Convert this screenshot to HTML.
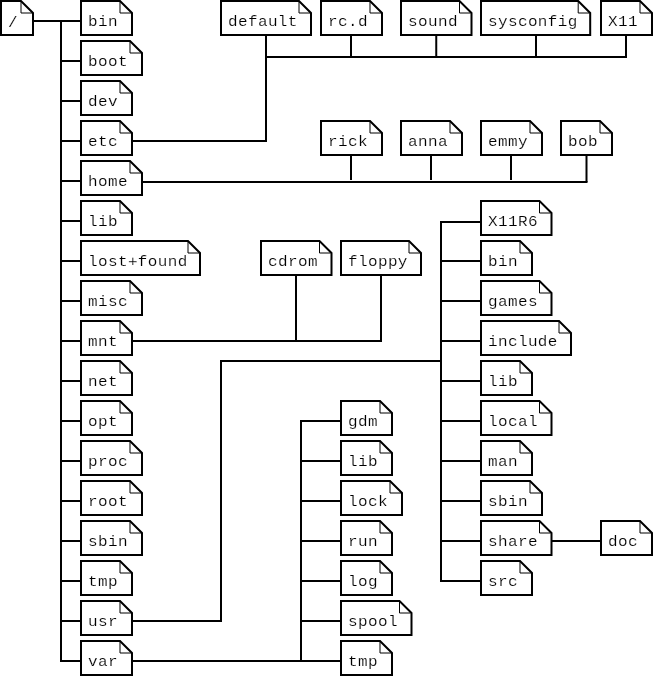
<!DOCTYPE html>
<html lang="en">
<head>
<meta charset="utf-8">
<title>Linux file system layout</title>
<style>
html,body{margin:0;padding:0;background:#fff;}
svg{display:block;filter:grayscale(1);}
.ln{stroke:#000;stroke-width:2;fill:none;stroke-linecap:butt;}
.bx{stroke:#000;stroke-width:2;fill:#fff;stroke-linejoin:miter;}
.fd{stroke:#000;stroke-width:1;fill:none;}
text{font-family:"Liberation Mono","DejaVu Sans Mono",monospace;font-size:16px;letter-spacing:0.4px;fill:#000;stroke:#fff;stroke-width:0.18px;}
</style>
</head>
<body>
<svg width="653" height="693" viewBox="0 0 653 693">
<rect x="0" y="0" width="653" height="693" fill="#fff"/>
<g class="ln">
<line x1="33" y1="21" x2="81" y2="21"/>
<line x1="61" y1="20" x2="61" y2="662"/>
<line x1="61" y1="61" x2="81" y2="61"/>
<line x1="61" y1="101" x2="81" y2="101"/>
<line x1="61" y1="141" x2="81" y2="141"/>
<line x1="61" y1="181" x2="81" y2="181"/>
<line x1="61" y1="221" x2="81" y2="221"/>
<line x1="61" y1="261" x2="81" y2="261"/>
<line x1="61" y1="301" x2="81" y2="301"/>
<line x1="61" y1="341" x2="81" y2="341"/>
<line x1="61" y1="381" x2="81" y2="381"/>
<line x1="61" y1="421" x2="81" y2="421"/>
<line x1="61" y1="461" x2="81" y2="461"/>
<line x1="61" y1="501" x2="81" y2="501"/>
<line x1="61" y1="541" x2="81" y2="541"/>
<line x1="61" y1="581" x2="81" y2="581"/>
<line x1="61" y1="621" x2="81" y2="621"/>
<line x1="61" y1="661" x2="81" y2="661"/>
<line x1="132" y1="141" x2="267" y2="141"/>
<line x1="266" y1="35" x2="266" y2="142"/>
<line x1="266" y1="57" x2="627" y2="57"/>
<line x1="351" y1="35" x2="351" y2="57"/>
<line x1="436.25" y1="35" x2="436.25" y2="57"/>
<line x1="536" y1="35" x2="536" y2="57"/>
<line x1="626" y1="35" x2="626" y2="57"/>
<line x1="142" y1="182" x2="587.5" y2="182"/>
<line x1="351" y1="155" x2="351" y2="180"/>
<line x1="431" y1="155" x2="431" y2="180"/>
<line x1="511" y1="155" x2="511" y2="180"/>
<line x1="586.5" y1="155" x2="586.5" y2="182"/>
<line x1="132" y1="341" x2="382" y2="341"/>
<line x1="296" y1="275" x2="296" y2="341"/>
<line x1="381" y1="275" x2="381" y2="341"/>
<line x1="132" y1="621" x2="222" y2="621"/>
<line x1="221" y1="360" x2="221" y2="621"/>
<line x1="221" y1="361" x2="441" y2="361"/>
<line x1="441" y1="221" x2="441" y2="582"/>
<line x1="441" y1="222" x2="481" y2="222"/>
<line x1="441" y1="261" x2="481" y2="261"/>
<line x1="441" y1="301" x2="481" y2="301"/>
<line x1="441" y1="341" x2="481" y2="341"/>
<line x1="441" y1="381" x2="481" y2="381"/>
<line x1="441" y1="421" x2="481" y2="421"/>
<line x1="441" y1="461" x2="481" y2="461"/>
<line x1="441" y1="501" x2="481" y2="501"/>
<line x1="441" y1="541" x2="481" y2="541"/>
<line x1="441" y1="581" x2="481" y2="581"/>
<line x1="551.5" y1="541" x2="601" y2="541"/>
<line x1="132" y1="661" x2="341" y2="661"/>
<line x1="301" y1="420" x2="301" y2="661"/>
<line x1="301" y1="421" x2="341" y2="421"/>
<line x1="301" y1="461" x2="341" y2="461"/>
<line x1="301" y1="501" x2="341" y2="501"/>
<line x1="301" y1="541" x2="341" y2="541"/>
<line x1="301" y1="581" x2="341" y2="581"/>
<line x1="301" y1="621" x2="341" y2="621"/>
</g>
<g>
<path class="bx" d="M1 1 L21 1 L33 13 L33 35 L1 35 Z"/>
<path class="fd" d="M21 2 L21 13 L32 13"/>
<text transform="translate(7.9 27) scale(1 0.97)">/</text>
</g>
<g>
<path class="bx" d="M81 1 L120 1 L132 13 L132 35 L81 35 Z"/>
<path class="fd" d="M120 2 L120 13 L131 13"/>
<text transform="translate(87.9 26) scale(1 0.87)">bin</text>
</g>
<g>
<path class="bx" d="M81 41 L130 41 L142 53 L142 75 L81 75 Z"/>
<path class="fd" d="M130 42 L130 53 L141 53"/>
<text transform="translate(87.9 66) scale(1 0.87)">boot</text>
</g>
<g>
<path class="bx" d="M81 81 L120 81 L132 93 L132 115 L81 115 Z"/>
<path class="fd" d="M120 82 L120 93 L131 93"/>
<text transform="translate(87.9 106) scale(1 0.87)">dev</text>
</g>
<g>
<path class="bx" d="M81 121 L120 121 L132 133 L132 155 L81 155 Z"/>
<path class="fd" d="M120 122 L120 133 L131 133"/>
<text transform="translate(87.9 146) scale(1 0.87)">etc</text>
</g>
<g>
<path class="bx" d="M81 161 L130 161 L142 173 L142 195 L81 195 Z"/>
<path class="fd" d="M130 162 L130 173 L141 173"/>
<text transform="translate(87.9 186) scale(1 0.87)">home</text>
</g>
<g>
<path class="bx" d="M81 201 L120 201 L132 213 L132 235 L81 235 Z"/>
<path class="fd" d="M120 202 L120 213 L131 213"/>
<text transform="translate(87.9 226) scale(1 0.87)">lib</text>
</g>
<g>
<path class="bx" d="M81 241 L188 241 L200 253 L200 275 L81 275 Z"/>
<path class="fd" d="M188 242 L188 253 L199 253"/>
<text transform="translate(87.9 266) scale(1 0.87)">lost+found</text>
</g>
<g>
<path class="bx" d="M81 281 L130 281 L142 293 L142 315 L81 315 Z"/>
<path class="fd" d="M130 282 L130 293 L141 293"/>
<text transform="translate(87.9 306) scale(1 0.87)">misc</text>
</g>
<g>
<path class="bx" d="M81 321 L120 321 L132 333 L132 355 L81 355 Z"/>
<path class="fd" d="M120 322 L120 333 L131 333"/>
<text transform="translate(87.9 346) scale(1 0.87)">mnt</text>
</g>
<g>
<path class="bx" d="M81 361 L120 361 L132 373 L132 395 L81 395 Z"/>
<path class="fd" d="M120 362 L120 373 L131 373"/>
<text transform="translate(87.9 386) scale(1 0.87)">net</text>
</g>
<g>
<path class="bx" d="M81 401 L120 401 L132 413 L132 435 L81 435 Z"/>
<path class="fd" d="M120 402 L120 413 L131 413"/>
<text transform="translate(87.9 426) scale(1 0.87)">opt</text>
</g>
<g>
<path class="bx" d="M81 441 L130 441 L142 453 L142 475 L81 475 Z"/>
<path class="fd" d="M130 442 L130 453 L141 453"/>
<text transform="translate(87.9 466) scale(1 0.87)">proc</text>
</g>
<g>
<path class="bx" d="M81 481 L130 481 L142 493 L142 515 L81 515 Z"/>
<path class="fd" d="M130 482 L130 493 L141 493"/>
<text transform="translate(87.9 506) scale(1 0.87)">root</text>
</g>
<g>
<path class="bx" d="M81 521 L130 521 L142 533 L142 555 L81 555 Z"/>
<path class="fd" d="M130 522 L130 533 L141 533"/>
<text transform="translate(87.9 546) scale(1 0.87)">sbin</text>
</g>
<g>
<path class="bx" d="M81 561 L120 561 L132 573 L132 595 L81 595 Z"/>
<path class="fd" d="M120 562 L120 573 L131 573"/>
<text transform="translate(87.9 586) scale(1 0.87)">tmp</text>
</g>
<g>
<path class="bx" d="M81 601 L120 601 L132 613 L132 635 L81 635 Z"/>
<path class="fd" d="M120 602 L120 613 L131 613"/>
<text transform="translate(87.9 626) scale(1 0.87)">usr</text>
</g>
<g>
<path class="bx" d="M81 641 L120 641 L132 653 L132 675 L81 675 Z"/>
<path class="fd" d="M120 642 L120 653 L131 653"/>
<text transform="translate(87.9 666) scale(1 0.87)">var</text>
</g>
<g>
<path class="bx" d="M221 1 L299 1 L311 13 L311 35 L221 35 Z"/>
<path class="fd" d="M299 2 L299 13 L310 13"/>
<text transform="translate(227.9 26) scale(1 0.87)">default</text>
</g>
<g>
<path class="bx" d="M321 1 L370 1 L382 13 L382 35 L321 35 Z"/>
<path class="fd" d="M370 2 L370 13 L381 13"/>
<text transform="translate(327.9 26) scale(1 0.87)">rc.d</text>
</g>
<g>
<path class="bx" d="M401 1 L459.5 1 L471.5 13 L471.5 35 L401 35 Z"/>
<path class="fd" d="M459.5 2 L459.5 13 L470.5 13"/>
<text transform="translate(407.9 26) scale(1 0.87)">sound</text>
</g>
<g>
<path class="bx" d="M481 1 L578.2 1 L590.2 13 L590.2 35 L481 35 Z"/>
<path class="fd" d="M578.2 2 L578.2 13 L589.2 13"/>
<text transform="translate(487.9 26) scale(1 0.87)">sysconfig</text>
</g>
<g>
<path class="bx" d="M601 1 L640 1 L652 13 L652 35 L601 35 Z"/>
<path class="fd" d="M640 2 L640 13 L651 13"/>
<text transform="translate(607.9 26) scale(1 0.87)">X11</text>
</g>
<g>
<path class="bx" d="M321 121 L370 121 L382 133 L382 155 L321 155 Z"/>
<path class="fd" d="M370 122 L370 133 L381 133"/>
<text transform="translate(327.9 146) scale(1 0.87)">rick</text>
</g>
<g>
<path class="bx" d="M401 121 L450 121 L462 133 L462 155 L401 155 Z"/>
<path class="fd" d="M450 122 L450 133 L461 133"/>
<text transform="translate(407.9 146) scale(1 0.87)">anna</text>
</g>
<g>
<path class="bx" d="M481 121 L530 121 L542 133 L542 155 L481 155 Z"/>
<path class="fd" d="M530 122 L530 133 L541 133"/>
<text transform="translate(487.9 146) scale(1 0.87)">emmy</text>
</g>
<g>
<path class="bx" d="M561 121 L600 121 L612 133 L612 155 L561 155 Z"/>
<path class="fd" d="M600 122 L600 133 L611 133"/>
<text transform="translate(567.9 146) scale(1 0.87)">bob</text>
</g>
<g>
<path class="bx" d="M261 241 L319.5 241 L331.5 253 L331.5 275 L261 275 Z"/>
<path class="fd" d="M319.5 242 L319.5 253 L330.5 253"/>
<text transform="translate(267.9 266) scale(1 0.87)">cdrom</text>
</g>
<g>
<path class="bx" d="M341 241 L409 241 L421 253 L421 275 L341 275 Z"/>
<path class="fd" d="M409 242 L409 253 L420 253"/>
<text transform="translate(347.9 266) scale(1 0.87)">floppy</text>
</g>
<g>
<path class="bx" d="M481 201 L539.5 201 L551.5 213 L551.5 235 L481 235 Z"/>
<path class="fd" d="M539.5 202 L539.5 213 L550.5 213"/>
<text transform="translate(487.9 226) scale(1 0.87)">X11R6</text>
</g>
<g>
<path class="bx" d="M481 241 L520 241 L532 253 L532 275 L481 275 Z"/>
<path class="fd" d="M520 242 L520 253 L531 253"/>
<text transform="translate(487.9 266) scale(1 0.87)">bin</text>
</g>
<g>
<path class="bx" d="M481 281 L539.5 281 L551.5 293 L551.5 315 L481 315 Z"/>
<path class="fd" d="M539.5 282 L539.5 293 L550.5 293"/>
<text transform="translate(487.9 306) scale(1 0.87)">games</text>
</g>
<g>
<path class="bx" d="M481 321 L559 321 L571 333 L571 355 L481 355 Z"/>
<path class="fd" d="M559 322 L559 333 L570 333"/>
<text transform="translate(487.9 346) scale(1 0.87)">include</text>
</g>
<g>
<path class="bx" d="M481 361 L520 361 L532 373 L532 395 L481 395 Z"/>
<path class="fd" d="M520 362 L520 373 L531 373"/>
<text transform="translate(487.9 386) scale(1 0.87)">lib</text>
</g>
<g>
<path class="bx" d="M481 401 L539.5 401 L551.5 413 L551.5 435 L481 435 Z"/>
<path class="fd" d="M539.5 402 L539.5 413 L550.5 413"/>
<text transform="translate(487.9 426) scale(1 0.87)">local</text>
</g>
<g>
<path class="bx" d="M481 441 L520 441 L532 453 L532 475 L481 475 Z"/>
<path class="fd" d="M520 442 L520 453 L531 453"/>
<text transform="translate(487.9 466) scale(1 0.87)">man</text>
</g>
<g>
<path class="bx" d="M481 481 L530 481 L542 493 L542 515 L481 515 Z"/>
<path class="fd" d="M530 482 L530 493 L541 493"/>
<text transform="translate(487.9 506) scale(1 0.87)">sbin</text>
</g>
<g>
<path class="bx" d="M481 521 L539.5 521 L551.5 533 L551.5 555 L481 555 Z"/>
<path class="fd" d="M539.5 522 L539.5 533 L550.5 533"/>
<text transform="translate(487.9 546) scale(1 0.87)">share</text>
</g>
<g>
<path class="bx" d="M481 561 L520 561 L532 573 L532 595 L481 595 Z"/>
<path class="fd" d="M520 562 L520 573 L531 573"/>
<text transform="translate(487.9 586) scale(1 0.87)">src</text>
</g>
<g>
<path class="bx" d="M601 521 L640 521 L652 533 L652 555 L601 555 Z"/>
<path class="fd" d="M640 522 L640 533 L651 533"/>
<text transform="translate(607.9 546) scale(1 0.87)">doc</text>
</g>
<g>
<path class="bx" d="M341 401 L380 401 L392 413 L392 435 L341 435 Z"/>
<path class="fd" d="M380 402 L380 413 L391 413"/>
<text transform="translate(347.9 426) scale(1 0.87)">gdm</text>
</g>
<g>
<path class="bx" d="M341 441 L380 441 L392 453 L392 475 L341 475 Z"/>
<path class="fd" d="M380 442 L380 453 L391 453"/>
<text transform="translate(347.9 466) scale(1 0.87)">lib</text>
</g>
<g>
<path class="bx" d="M341 481 L390 481 L402 493 L402 515 L341 515 Z"/>
<path class="fd" d="M390 482 L390 493 L401 493"/>
<text transform="translate(347.9 506) scale(1 0.87)">lock</text>
</g>
<g>
<path class="bx" d="M341 521 L380 521 L392 533 L392 555 L341 555 Z"/>
<path class="fd" d="M380 522 L380 533 L391 533"/>
<text transform="translate(347.9 546) scale(1 0.87)">run</text>
</g>
<g>
<path class="bx" d="M341 561 L380 561 L392 573 L392 595 L341 595 Z"/>
<path class="fd" d="M380 562 L380 573 L391 573"/>
<text transform="translate(347.9 586) scale(1 0.87)">log</text>
</g>
<g>
<path class="bx" d="M341 601 L399.5 601 L411.5 613 L411.5 635 L341 635 Z"/>
<path class="fd" d="M399.5 602 L399.5 613 L410.5 613"/>
<text transform="translate(347.9 626) scale(1 0.87)">spool</text>
</g>
<g>
<path class="bx" d="M341 641 L380 641 L392 653 L392 675 L341 675 Z"/>
<path class="fd" d="M380 642 L380 653 L391 653"/>
<text transform="translate(347.9 666) scale(1 0.87)">tmp</text>
</g>
</svg>
</body>
</html>
